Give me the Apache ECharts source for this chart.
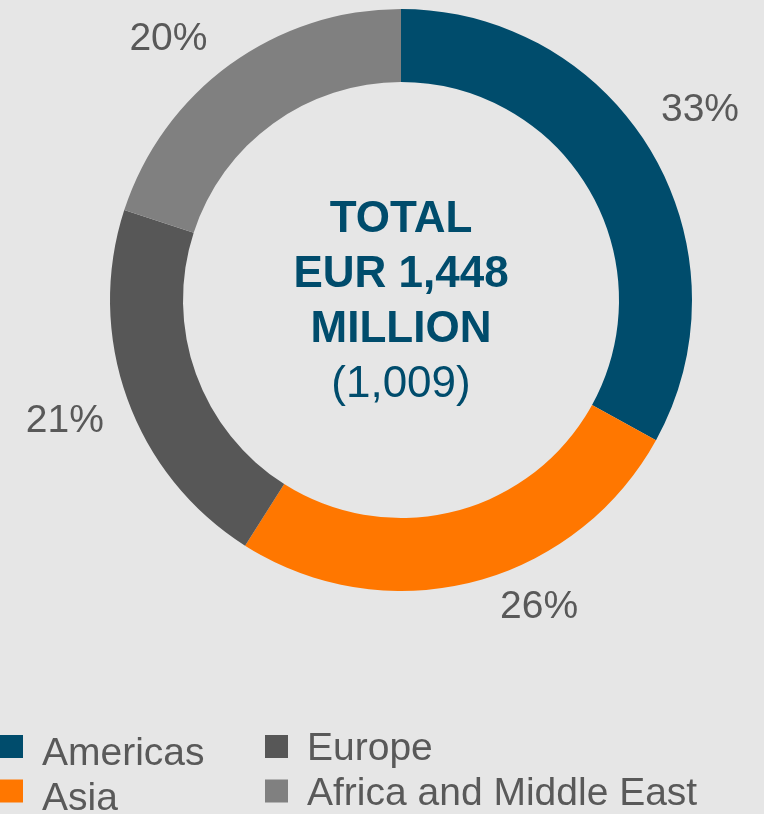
<!DOCTYPE html>
<html>
<head>
<meta charset="utf-8">
<script src="https://cdn.jsdelivr.net/npm/echarts@6/dist/echarts.min.js"></script>
<style>
  html, body { margin: 0; padding: 0; background: #e6e6e6; }
  #main { width: 764px; height: 814px; }
</style>
</head>
<body>
<div id="main"></div>
<script>
// regions and their share of the total (%)
const regions = ['Americas', 'Asia', 'Europe', 'Africa and Middle East'];
const shares = [33, 26, 21, 20];
const colors = ['#004c6c', '#ff7700', '#575757', '#808080'];
const totalLines = ['TOTAL', 'EUR 1,448', 'MILLION'];
const prevTotal = '(1,009)';

const cx = 401, cy = 300;
const rOuter = 291, rInner = 218;
// small hand nudges so the % labels sit where the original put them
const labelNudge = [[0, -13], [24, -1], [-13, 3], [-16, 7]];

const chart = echarts.init(document.getElementById('main'));

// mid angle of each slice, clockwise from 12 o'clock
const sum = shares.reduce((a, b) => a + b, 0);
let acc = 0;
const midAngles = shares.map(v => {
  const a = (acc + v / 2) / sum * Math.PI * 2;
  acc += v;
  return a;
});

// legend column; the square sits at the top of a taller icon box so the
// name ends up `drop` px lower than the square's centre
const textBox = 39; // height legend gives a 39px name
const legendCol = (names, left, drop) => {
  const h = 23 + 2 * drop;
  const itemH = Math.max(h, textBox);
  return {
    orient: 'vertical',
    left: left,
    top: 735 - (itemH - h) / 2,
    height: 200,
    data: names,
    icon: 'path://M0,0H23V23H0Z M0,' + h + 'L0.01,' + h,
    itemWidth: 23,
    itemHeight: h,
    itemGap: 44.5 - itemH,
    padding: 0,
    textStyle: {
      fontFamily: 'Liberation Sans',
      fontSize: 39,
      lineHeight: 23,
      color: '#595959',
      padding: [0, 0, 0, 14]
    }
  };
};

chart.setOption({
  backgroundColor: '#e6e6e6',
  color: colors,
  legend: [
    legendCol(regions.slice(0, 2), 0, 8),
    legendCol(regions.slice(2), 265, 3)
  ],
  graphic: [{
    type: 'text',
    x: cx,
    y: cy + 2,
    style: {
      text: totalLines.map(t => '{b|' + t + '}').join('\n') + '\n{n|' + prevTotal + '}',
      align: 'center',
      verticalAlign: 'middle',
      rich: {
        b: { fontFamily: 'Liberation Sans', fontSize: 44, fontWeight: 'bold', lineHeight: 55, fill: '#004c6c', align: 'center' },
        n: { fontFamily: 'Liberation Sans', fontSize: 44, lineHeight: 55, fill: '#004c6c', align: 'center' }
      }
    }
  }],
  series: [{
    type: 'pie',
    center: [cx, cy],
    radius: [rInner, rOuter],
    startAngle: 90,
    clockwise: true,
    avoidLabelOverlap: false,
    silent: true,
    data: regions.map((name, i) => ({ name, value: shares[i] })),
    label: {
      show: true,
      position: 'outside',
      formatter: p => p.value + '%',
      fontFamily: 'Liberation Sans',
      fontSize: 39,
      color: '#595959'
    },
    labelLine: { show: false },
    labelLayout: params => {
      const i = params.dataIndex;
      const a = midAngles[i];
      const sx = Math.sin(a), sy = -Math.cos(a);
      const w = params.labelRect.width, h = params.labelRect.height;
      const r0 = 302;
      return {
        x: cx + sx * r0 + Math.sign(sx) * w / 2 + labelNudge[i][0],
        y: cy + sy * r0 + Math.sign(sy) * h / 2 - 4 + labelNudge[i][1],
        align: 'center',
        verticalAlign: 'middle'
      };
    }
  }]
});
</script>
</body>
</html>
